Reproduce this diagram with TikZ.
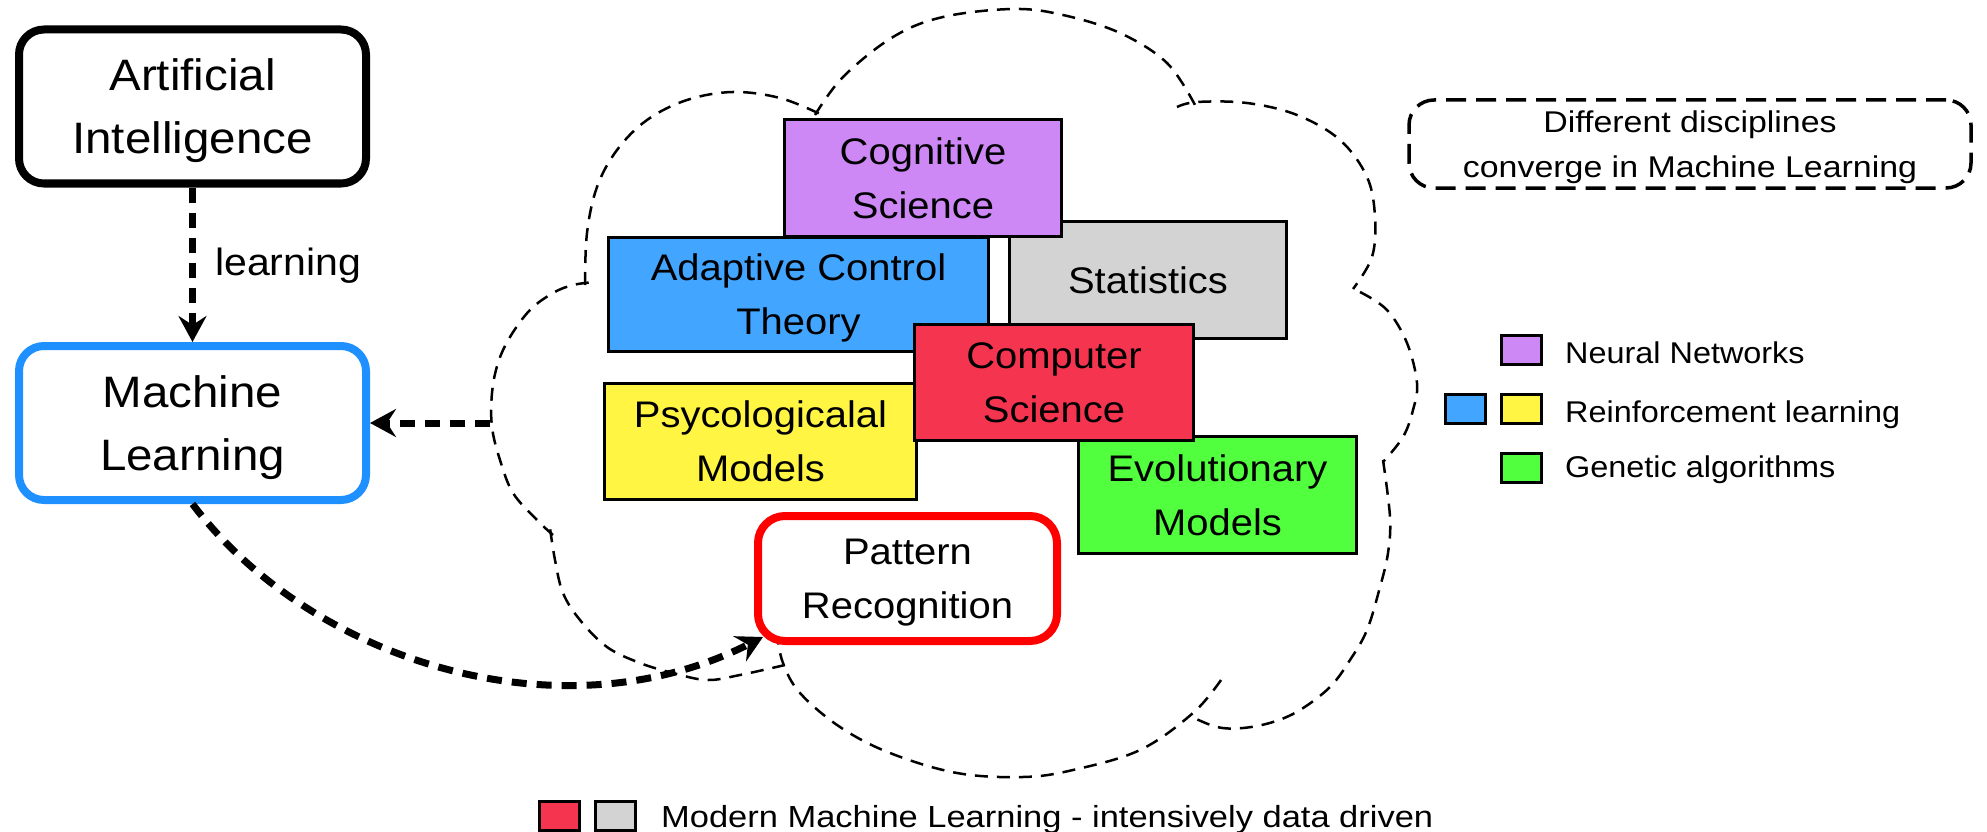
\documentclass[tikz,border=0pt]{standalone}
\usepackage{fontspec}
\setmainfont{Liberation Sans}[FakeStretch=1.08]
\newfontfamily\widefont{Liberation Sans}[FakeStretch=1.13]
\usetikzlibrary{arrows.meta}
\definecolor{cpurple}{HTML}{CD88F5}
\definecolor{cblue}{HTML}{42A5FF}
\definecolor{cgrey}{HTML}{D3D3D3}
\definecolor{cred}{HTML}{F53450}
\definecolor{cyellow}{HTML}{FFF542}
\definecolor{cgreen}{HTML}{52FF3E}
\definecolor{mlblue}{HTML}{1E90FF}
\definecolor{prred}{HTML}{FF0000}
\tikzset{
  bigbox/.style={draw, rounded corners=25pt, line width=8pt, minimum width=347pt, minimum height=154pt,
    align=center, inner sep=0pt, text depth=0pt, font=\fontsize{44}{63}\selectfont},
  discbox/.style={draw, line width=3pt, align=center, inner sep=0pt, text depth=0pt,
    font=\fontsize{37}{54}\selectfont},
  legsq/.style={draw, line width=3pt, minimum width=40pt, minimum height=29pt, inner sep=0pt},
  legtxt/.style={anchor=base west, inner sep=0pt, font=\fontsize{30}{45}\selectfont},
  thickarrow/.style={line width=7pt, dash pattern=on 15pt off 10pt,
    -{Stealth[length=26pt,width=28pt,inset=9pt]}},
  cloudline/.style={line width=2.5pt, dash pattern=on 13pt off 9pt},
}
\begin{document}
\begin{tikzpicture}[x=1pt,y=-1pt]
\useasboundingbox (0,0) rectangle (1987,832);

% cloud
\draw[cloudline] plot[smooth, tension=0.6] coordinates {(585,285) (587,233) (597,187) (617,150) (647,120) (687,100) (733,92) (780,98) (820,114)};
\draw[cloudline] plot[smooth, tension=0.6] coordinates {(815,115) (843,77) (893,37) (943,17) (1013,9) (1063,15) (1120,33) (1167,63) (1195,105)};
\draw[cloudline] plot[smooth, tension=0.6] coordinates {(1177,107) (1197,102) (1247,103) (1297,115) (1340,140) (1367,177) (1375,217) (1372,257) (1353,289)};
\draw[cloudline] plot[smooth, tension=0.6] coordinates {(1360,292) (1387,310) (1407,343) (1417,383) (1413,410) (1403,437) (1383,462)};
\draw[cloudline] plot[smooth, tension=0.6] coordinates {(1383,460) (1390,517) (1388,553) (1380,587) (1367,630) (1350,660) (1330,687) (1300,710) (1273,722) (1243,728) (1217,727) (1190,716)};
\draw[cloudline] plot[smooth, tension=0.6] coordinates {(1221,680) (1193,713) (1140,750) (1073,770) (1023,777) (957,773) (890,753) (840,727) (800,693) (783,663) (777,635)};
\draw[cloudline] plot[smooth, tension=0.6] coordinates {(785,665) (740,675) (707,680) (673,673) (640,663) (607,647) (580,620) (563,593) (555,560) (550,528)};
\draw[cloudline] plot[smooth, tension=0.6] coordinates {(553,535) (537,520) (513,493) (500,460) (492,427) (492,393) (498,363) (510,337) (530,310) (553,293) (573,285) (595,282)};

% left nodes
\node[bigbox] (ai) at (192.5,106.5) {Artificial\\Intelligence};
\node[bigbox, draw=mlblue] (ml) at (192.5,423) {Machine\\Learning};
\node[anchor=base west, inner sep=0pt, font=\fontsize{38}{45}\selectfont] (lbl) at (215,275) {learning};

% discipline boxes
\node[discbox, fill=cblue, minimum width=380pt, minimum height=114pt] (act) at (798.5,294.5) {Adaptive Control\\Theory};
\node[discbox, fill=cgrey, minimum width=277pt, minimum height=117pt] (stat) at (1148,280) {Statistics};
\node[discbox, fill=cpurple, minimum width=277pt, minimum height=117pt] (cog) at (923,178) {Cognitive\\Science};
\node[discbox, fill=cyellow, minimum width=312pt, minimum height=116pt] (psy) at (760.5,441.5) {Psycologicalal\\Models};
\node[discbox, fill=cgreen, minimum width=278pt, minimum height=117pt] (evo) at (1217.5,495) {Evolutionary\\Models};
\node[discbox, fill=cred, minimum width=279pt, minimum height=116pt] (cs) at (1054,382.5) {Computer\\Science};
\node[discbox, draw=prred, fill=white, line width=8pt, rounded corners=27pt, minimum width=299pt, minimum height=125pt] (pr) at (907.5,578.5) {Pattern\\Recognition};

% connectors
\coordinate (cloudL) at (490,423);
\draw[thickarrow] (ai) -- (ml);
\draw[thickarrow] (cloudL) -- (ml);
\draw[thickarrow] (ml.south) .. controls (310,660) and (560,740) .. ([shift={(9pt,8pt)}]pr.south west);

% note box
\node[draw, line width=3.5pt, dash pattern=on 20pt off 10pt, rounded corners=25pt, minimum width=562pt, minimum height=88pt,
  align=center, inner sep=0pt, text depth=0pt, font=\widefont\fontsize{30}{45}\selectfont] (note) at (1690,144)
  {Different disciplines\\converge in Machine Learning};

% legend
\node[legsq, fill=cpurple] (lp) at (1521.5,349.5) {};
\node[legsq, fill=cblue] (lb) at (1465,408.5) {};
\node[legsq, fill=cyellow] (ly) at (1521.5,408.5) {};
\node[legsq, fill=cgreen] (lg) at (1521.5,467.5) {};
\node[legtxt] (tnn) at (1565,363) {Neural Networks};
\node[legtxt] (trl) at (1565,422) {Reinforcement learning};
\node[legtxt] (tga) at (1565,477) {Genetic algorithms};

% bottom legend
\node[legsq, fill=cred] (br) at (559,816) {};
\node[legsq, fill=cgrey] (bg) at (615.5,816) {};
\node[legtxt, font=\widefont\fontsize{30.5}{45}\selectfont] (tmm) at (661,827) {Modern Machine Learning - intensively data driven};
\end{tikzpicture}
\end{document}
